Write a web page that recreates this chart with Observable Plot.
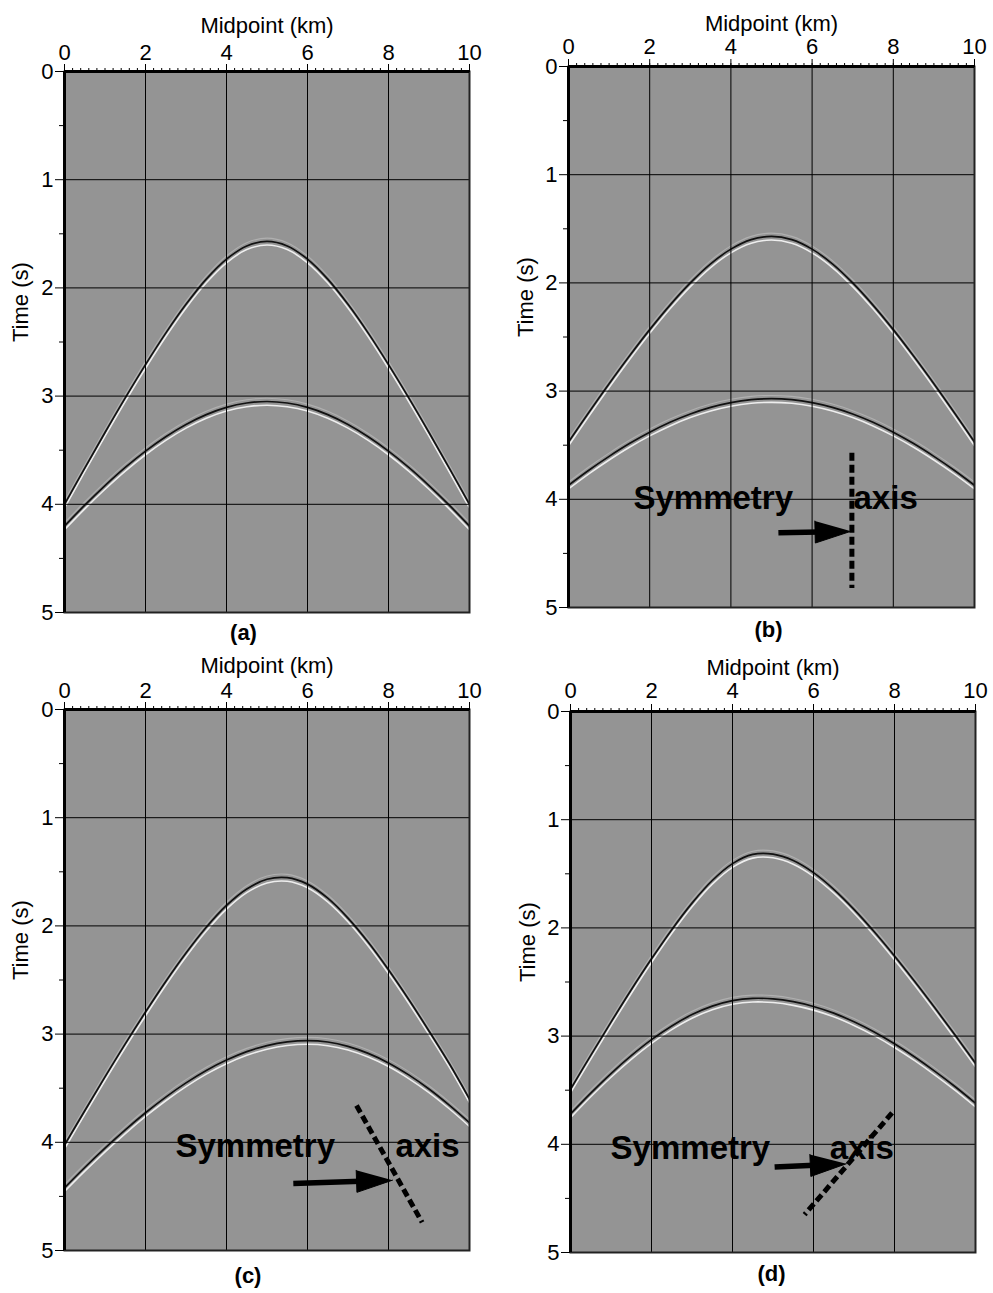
<!DOCTYPE html>
<html><head><meta charset="utf-8">
<script src="https://cdn.jsdelivr.net/npm/d3@7"></script>
<script src="https://cdn.jsdelivr.net/npm/@observablehq/plot@0.6"></script>
<style>
body{margin:0;background:#fff;}
#wrap{position:relative;width:993px;height:1293px;overflow:hidden;background:#fff;}
#wrap > div{position:absolute;}
</style></head><body><div id="wrap"></div>
<script>
// ---- data ----
const midpoints = [0,0.5,1,1.5,2,2.5,3,3.5,4,4.5,5,5.5,6,6.5,7,7.5,8,8.5,9,9.5,10];
const a1 = [4.00,3.665,3.336,3.016,2.709,2.418,2.152,1.919,1.734,1.612,1.570,1.612,1.734,1.919,2.152,2.418,2.709,3.016,3.336,3.665,4.00];
const a2 = [4.201,4.008,3.827,3.659,3.508,3.375,3.262,3.171,3.104,3.064,3.050,3.064,3.104,3.171,3.262,3.375,3.508,3.659,3.827,4.008,4.201];
const b1 = [3.471,3.198,2.932,2.676,2.432,2.205,2.000,1.824,1.688,1.600,1.570,1.600,1.688,1.824,2.000,2.205,2.432,2.676,2.932,3.198,3.471];
const b2 = [3.870,3.731,3.603,3.485,3.380,3.288,3.211,3.150,3.106,3.079,3.070,3.079,3.106,3.150,3.211,3.288,3.380,3.485,3.603,3.731,3.870];
const c1 = [4.026,3.708,3.395,3.090,2.796,2.514,2.251,2.013,1.811,1.659,1.569,1.554,1.614,1.744,1.928,2.152,2.406,2.681,2.971,3.272,3.600];
const c2 = [4.421,4.233,4.054,3.885,3.727,3.582,3.451,3.336,3.240,3.162,3.106,3.072,3.060,3.073,3.113,3.178,3.266,3.377,3.507,3.656,3.819];
const d1 = [3.491,3.178,2.871,2.572,2.286,2.016,1.771,1.562,1.406,1.321,1.318,1.377,1.489,1.643,1.828,2.036,2.260,2.496,2.741,2.993,3.250];
const d2 = [3.720,3.527,3.346,3.181,3.033,2.906,2.801,2.723,2.672,2.651,2.656,2.682,2.726,2.788,2.868,2.962,3.071,3.193,3.326,3.468,3.620];

const majorX = [0,2,4,6,8,10];
const minorX = d3.range(0, 10.001, 0.2).map(v => +v.toFixed(1));
const majorY = [0,1,2,3,4,5];
const minorY = [0.5,1.5,2.5,3.5,4.5];
const gridX = [2,4,6,8];
const gridY = [1,2,3,4];

const xTitle = "Midpoint (km)";
const yTitle = "Time (s)";
const panelLabels = ["(a)","(b)","(c)","(d)"];
const annotationText = ["Symmetry","axis"];

const textPosB = [[1.6,4.09],[7.02,4.09]];
const axisLineB = [[6.98,3.57],[6.98,4.82]];
const arrowB = [[5.17,4.31],[6.96,4.295]];

const textPosC = [[2.74,4.14],[8.17,4.14]];
const axisLineC = [[7.21,3.66],[8.83,4.74]];
const arrowC = [[5.65,4.38],[8.10,4.35]];

const textPosD = [[0.99,4.14],[6.40,4.14]];
const axisLineD = [[7.94,3.71],[5.78,4.65]];
const arrowD = [[5.04,4.21],[6.81,4.18]];

// ---- drawing ----
const FONT = "'Liberation Sans', Arial, Helvetica, sans-serif";
const BG = "#949494";

function wave(ts) {
  const rows = midpoints.map((x, i) => ({x, t: ts[i]}));
  const base = {x: "x", curve: "catmull-rom", clip: true};
  return [
    Plot.line(rows, {...base, y: d => d.t - 0.03, stroke: "#b0b0b0", strokeWidth: 1.1}),
    Plot.line(rows, {...base, y: d => d.t + 0.034, stroke: "#eeeeee", strokeWidth: 1.6}),
    Plot.line(rows, {...base, y: "t", stroke: "#111", strokeWidth: 1.7})
  ];
}

function arrowMarks(arr, kx, ky) {
  const [[x0, t0], [x1, t1]] = arr;
  const px = (x1 - x0) * kx, py = (t1 - t0) * ky;
  const len = Math.hypot(px, py);
  const ux = px / len, uy = py / len;
  const L = 36, W = 11;
  const bx = x1 - ux * L / kx, bt = t1 - uy * L / ky;
  const shaft = [{x: x0, t: t0}, {x: x1 - ux * (L - 4) / kx, t: t1 - uy * (L - 4) / ky}];
  const head = [
    {x: x1, t: t1},
    {x: bx - uy * W / kx, t: bt + ux * W / ky},
    {x: bx + uy * W / kx, t: bt - ux * W / ky}
  ];
  return [
    Plot.line(shaft, {x: "x", y: "t", stroke: "black", strokeWidth: 5.5, strokeLinecap: "butt"}),
    Plot.line(head, {x: "x", y: "t", fill: "black", stroke: "black", strokeWidth: 1, strokeLinejoin: "miter"})
  ];
}

function annotation(textPos, axisLine, arrow, kx, ky) {
  return [
    Plot.text(annotationText, {x: (d, i) => textPos[i][0], y: (d, i) => textPos[i][1], text: d => d,
      textAnchor: "start", lineAnchor: "bottom", fontSize: 33, fontWeight: "bold", fill: "black"}),
    Plot.line(axisLine, {x: d => d[0], y: d => d[1], stroke: "black", strokeWidth: 5,
      strokeDasharray: "8,4", strokeLinecap: "butt"}),
    ...arrowMarks(arrow, kx, ky)
  ];
}

const specs = [
  {left: 0, top: 0, w: 496, h: 646, ml: 64, mr: 27, mt: 71, mb: 34, titleGap: 39, pad: 4, tdx: -44, ldx: -23.5, ldy: 20, e1: a1, e2: a2, ann: null},
  {left: 496, top: 0, w: 497, h: 646, ml: 72, mr: 19, mt: 66, mb: 39, titleGap: 36, pad: 5, tdx: -43, ldx: -3, ldy: 22, e1: b1, e2: b2, ann: [textPosB, axisLineB, arrowB]},
  {left: 0, top: 646, w: 496, h: 647, ml: 64, mr: 27, mt: 63, mb: 43, titleGap: 37, pad: 4, tdx: -44, ldx: -19, ldy: 25, e1: c1, e2: c2, ann: [textPosC, axisLineC, arrowC]},
  {left: 496, top: 646, w: 497, h: 647, ml: 74, mr: 18, mt: 65, mb: 41, titleGap: 37, pad: 6, tdx: -43, ldx: -1.5, ldy: 21, e1: d1, e2: d2, ann: [textPosD, axisLineD, arrowD]}
];

const wrap = document.getElementById("wrap");
specs.forEach((s, k) => {
  const fw = s.w - s.ml - s.mr, fh = s.h - s.mt - s.mb;
  const kx = fw / 10, ky = fh / 5;
  const marks = [
    Plot.frame({fill: BG}),
    ...wave(s.e1),
    ...wave(s.e2),
    Plot.gridX({ticks: gridX, stroke: "black", strokeOpacity: 1, strokeWidth: 1}),
    Plot.gridY({ticks: gridY, stroke: "black", strokeOpacity: 1, strokeWidth: 1}),
    Plot.frame({stroke: "#222", strokeWidth: 2}),
    Plot.ruleX([0], {stroke: "black", strokeWidth: 3}),
    Plot.ruleY([0], {stroke: "black", strokeWidth: 3}),
    Plot.axisX({ticks: majorX, anchor: "top", tickSize: 8, tickPadding: s.pad, fontSize: 22, label: null, tickFormat: d => String(d)}),
    Plot.axisX({ticks: minorX, anchor: "top", tickSize: 4, tickFormat: () => "", label: null}),
    Plot.axisY({ticks: majorY, anchor: "left", tickSize: 9, tickPadding: 2, fontSize: 22, label: null, tickFormat: d => String(d)}),
    Plot.axisY({ticks: minorY, anchor: "left", tickSize: 5, tickFormat: () => "", label: null}),
    Plot.text([xTitle], {frameAnchor: "top", dy: -s.titleGap, lineAnchor: "bottom", fontSize: 22, fill: "black"}),
    Plot.text([yTitle], {frameAnchor: "left", rotate: -90, dx: s.tdx, lineAnchor: "middle", fontSize: 22, fill: "black"}),
    Plot.text([panelLabels[k]], {frameAnchor: "bottom", dx: s.ldx, dy: s.ldy, lineAnchor: "middle", fontSize: 22, fontWeight: "bold", fill: "black"})
  ];
  if (s.ann) marks.push(...annotation(s.ann[0], s.ann[1], s.ann[2], kx, ky));
  const svg = Plot.plot({
    width: s.w, height: s.h,
    marginLeft: s.ml, marginRight: s.mr, marginTop: s.mt, marginBottom: s.mb,
    x: {domain: [0, 10]},
    y: {domain: [0, 5], reverse: true},
    style: {fontFamily: FONT, fontSize: "22px", color: "black", background: "transparent", overflow: "visible", maxWidth: "none"},
    marks
  });
  const div = document.createElement("div");
  div.style.left = s.left + "px";
  div.style.top = s.top + "px";
  div.style.width = s.w + "px";
  div.style.height = s.h + "px";
  div.appendChild(svg);
  wrap.appendChild(div);
});
</script>
</body></html>
